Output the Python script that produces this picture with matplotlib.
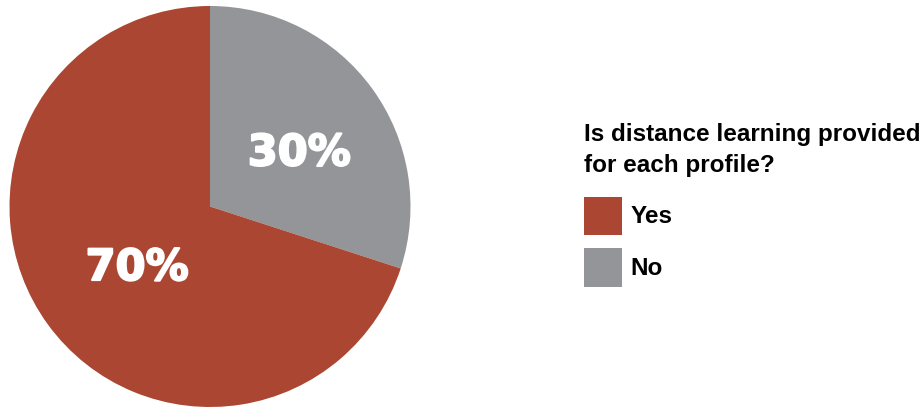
import matplotlib.pyplot as plt
import matplotlib.patheffects as pe

# survey answers
labels = ['No', 'Yes']
shares = [30, 70]
colors = ['#939598', '#AA4631']
title = 'Is distance learning provided\nfor each profile?'

fig = plt.figure(figsize=(9.23, 4.07), dpi=100)
ax = fig.add_axes([9.5 / 923, 0.0, 401 / 923, 401 / 407])

wedges, texts, autotexts = ax.pie(
    shares, colors=colors, startangle=90, counterclock=False,
    autopct='%d%%', pctdistance=0.5, radius=1.0,
    wedgeprops=dict(linewidth=0))
ax.set_xlim(-1, 1)
ax.set_ylim(-1, 1)
ax.set_aspect('equal')

# nudge the percentage labels into place, a touch heavier than plain bold
for t, pos in zip(autotexts, [(0.445, 0.265), (-0.364, -0.307)]):
    t.set_position(pos)
    t.set_color('white')
    t.set_fontsize(31)
    t.set_fontweight('bold')
    t.set_family('DejaVu Sans')
    t.set_path_effects([pe.withStroke(linewidth=1.5, foreground='white')])

font = dict(family='Liberation Sans', weight='bold', size=17.5)
leg = fig.legend(
    [wedges[1], wedges[0]], [labels[1], labels[0]],
    title=title, loc='upper left', bbox_to_anchor=(584 / 923, 1 - 123 / 407),
    frameon=False, alignment='left', borderpad=0, borderaxespad=0,
    handlelength=1.57, handleheight=2.05, handletextpad=0.35, labelspacing=0.55,
    prop=font, title_fontproperties=font)
leg.get_title().set_linespacing(1.45)
leg._legend_box.sep = 14

fig.savefig('out.png', dpi=100)
